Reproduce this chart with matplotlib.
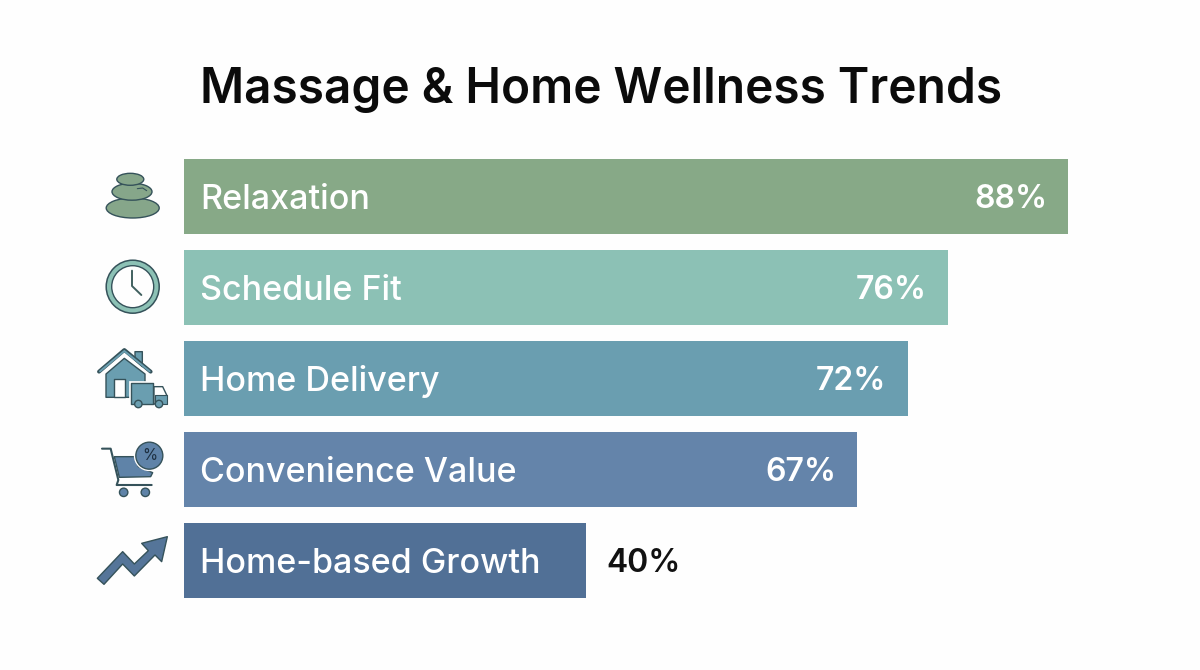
import matplotlib
matplotlib.use("Agg")
import matplotlib.pyplot as plt
from matplotlib.patches import Circle, Ellipse, Polygon

categories = ["Relaxation", "Schedule Fit", "Home Delivery", "Convenience Value", "Home-based Growth"]
values = [88, 76, 72, 67, 40]
bar_colors = ["#87a987", "#8cc1b5", "#6a9eb0", "#6484aa", "#517096"]
edge_dark = "#35525a"

W, H = 1200, 670
FONT = "Inter"

fig = plt.figure(figsize=(W / 100, H / 100), dpi=100, facecolor="#fefefe")

# bar area: 91 px per row, about 10 px per percent
ax = fig.add_axes([184 / W, 1 - 605.5 / H, 1016 / W, 455 / H])
ax.set_xlim(0, 1016 / 10.05)
ax.set_ylim(4.5, -0.5)
ax.axis("off")

bars = ax.barh(range(len(values)), values, height=75 / 91, color=bar_colors, linewidth=0)

for i, (name, val) in enumerate(zip(categories, values)):
    ax.text(1.6, i + 0.04, name, color="white", fontsize=24.5, va="center", ha="left", family=FONT,
            fontweight="medium")
    if val < 50:
        ax.text(val + 2.0, i + 0.04, f"{val}%", color="#111111", fontsize=23, va="center", ha="left",
                family=FONT, fontweight="semibold")
    else:
        ax.text(val - 2.1, i + 0.04, f"{val}%", color="white", fontsize=23, va="center", ha="right",
                family=FONT, fontweight="semibold")

fig.text(601 / W, 1 - 90 / H, "Massage & Home Wellness Trends", fontsize=34.4, ha="center", va="center",
         color="#0b0b0b", family="Inter", fontweight="semibold")

# overlay in pixel coordinates for the row icons
ic = fig.add_axes([0, 0, 1, 1], facecolor="none")
ic.set_xlim(0, W)
ic.set_ylim(H, 0)
ic.axis("off")


def pts(ox, oy, coords):
    # icon outlines are drawn on a 1/3 px grid
    return [(ox + x / 3, oy + y / 3) for x, y in coords]


def poly(ox, oy, coords, fc, ec=edge_dark, lw=1.0, z=3):
    ic.add_patch(Polygon(pts(ox, oy, coords), closed=True, fc=fc, ec=ec, lw=lw, zorder=z, joinstyle="round"))


def line(ox, oy, coords, color=edge_dark, lw=1.3, z=3):
    p = pts(ox, oy, coords)
    ic.plot([a for a, _ in p], [b for _, b in p], color=color, lw=lw, zorder=z,
            solid_capstyle="round", solid_joinstyle="round")


# stacked stones
stone = "#86a68a"
ic.add_patch(Ellipse((132.7, 208), 53, 20, fc=stone, ec=edge_dark, lw=1.0, zorder=3))
ic.add_patch(Ellipse((132, 191.7), 40, 17, fc=stone, ec=edge_dark, lw=1.0, zorder=4))
ic.add_patch(Ellipse((130.3, 179.3), 27, 12, fc=stone, ec=edge_dark, lw=1.0, zorder=5))
line(80, 150, [(172, 116), (188, 114), (200, 122)], lw=0.8, z=6)

# clock
ic.add_patch(Circle((132.7, 286.7), 26.5, fc="#8cc1b5", ec=edge_dark, lw=1.1, zorder=3))
ic.add_patch(Circle((132.7, 286.7), 21, fc="#fefefe", ec=edge_dark, lw=1.0, zorder=4))
line(80, 150, [(156, 362), (156, 408), (184, 435)], color="#40605f", lw=1.4, z=5)

# house and delivery truck
house = "#6a9eb0"
poly(80, 150, [(165, 605), (187, 605), (187, 650), (165, 630)], house)
poly(80, 150, [(78, 672), (133, 625), (195, 672), (195, 742), (78, 742)], house)
poly(80, 150, [(103, 688), (135, 688), (135, 742), (103, 742)], "#fefefe", lw=1.0, z=4)
line(80, 150, [(57, 665), (133, 600), (212, 665)], color=edge_dark, lw=2.8, z=4)
line(80, 150, [(60, 664), (133, 603), (209, 664)], color=house, lw=1.4, z=5)
poly(80, 150, [(147, 693), (223, 693), (223, 770), (147, 770)], "#fefefe", ec="#fefefe", lw=0.5, z=5)
poly(80, 150, [(152, 698), (218, 698), (218, 762), (152, 762)], house, z=6)
poly(80, 150, [(222, 710), (248, 710), (260, 735), (260, 762), (222, 762)], "#fefefe", z=6)
poly(80, 150, [(226, 736), (226, 762), (260, 762), (260, 736)], house, lw=0.8, z=7)
for wx in (175, 237):
    ic.add_patch(Circle(pts(80, 150, [(wx, 762)])[0], 3.7, fc=house, ec=edge_dark, lw=1.0, zorder=8))

# shopping cart with discount badge
cart = "#5f83a8"
poly(80, 420, [(103, 110), (165, 110), (175, 140), (218, 158), (212, 170), (118, 172)], cart)
line(80, 420, [(66, 86), (92, 86), (115, 180), (110, 195), (215, 195)], lw=1.5, z=4)
ic.add_patch(Circle(pts(80, 420, [(208, 107)])[0], 15.5, fc="#fefefe", ec="none", zorder=5))
ic.add_patch(Circle(pts(80, 420, [(208, 107)])[0], 13.5, fc=cart, ec=edge_dark, lw=1.0, zorder=6))
ic.text(*pts(80, 420, [(208, 107)])[0], "%", fontsize=11, color="#1d2f40", ha="center", va="center",
        zorder=7, family=FONT)
for wx in (131, 196):
    ic.add_patch(Circle(pts(80, 420, [(wx, 217)])[0], 4.2, fc=cart, ec=edge_dark, lw=1.0, zorder=4))

# rising arrow
poly(80, 420, [(52, 475), (128, 395), (163, 432), (205, 392), (185, 370), (262, 350), (245, 425),
               (225, 405), (163, 468), (128, 432), (72, 493)], "#557599", lw=1.0)

fig.savefig("out.png", dpi=100, facecolor=fig.get_facecolor())
